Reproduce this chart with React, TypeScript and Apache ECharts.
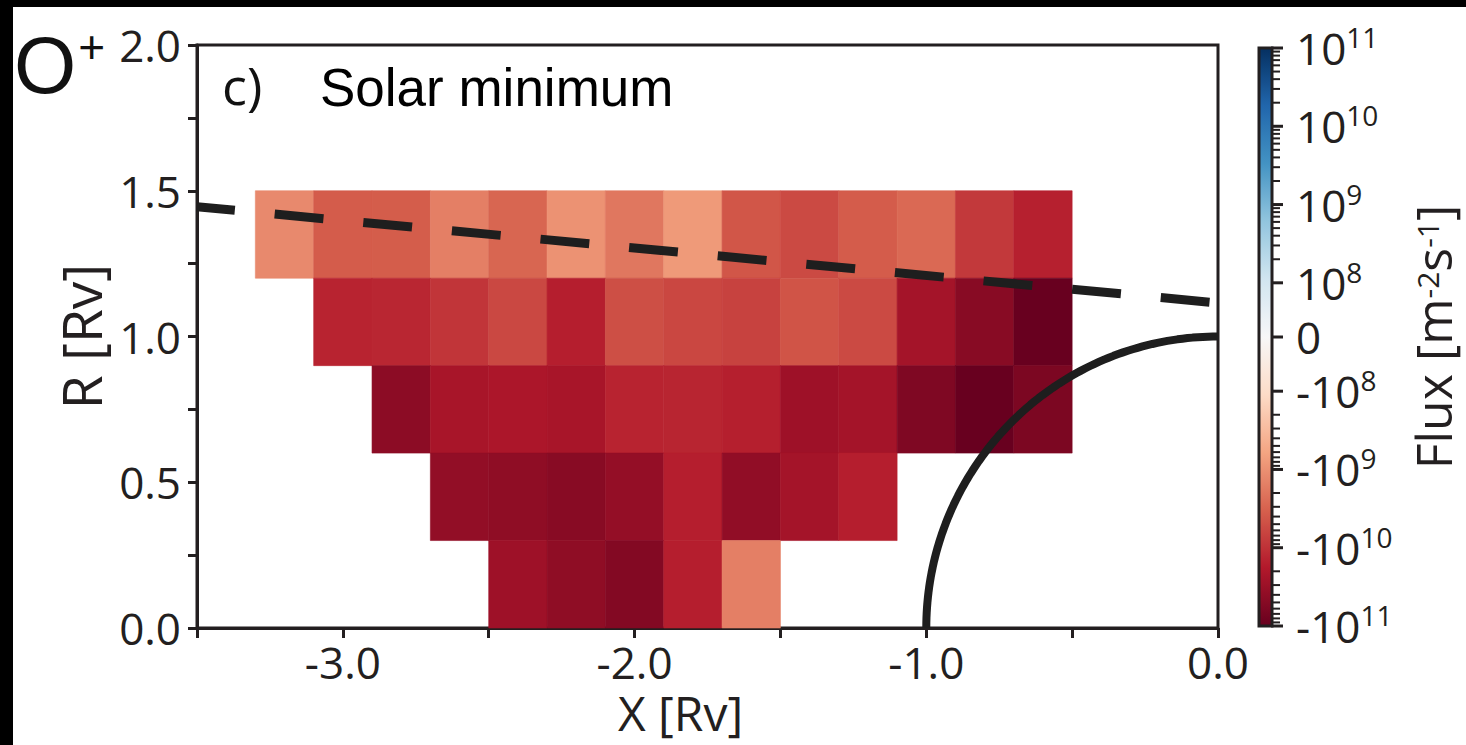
import React, { useEffect, useRef } from "react";
import * as echarts from "echarts";

// ---------- data ----------
const CELL_W = 0.2;
const CELL_H = 0.3;
const ROW_Y0 = [1.2, 0.9, 0.6, 0.3, 0.0];
const ROW_X0 = [-3.3, -3.1, -2.9, -2.7, -2.5];
const FLUX_ROW_1 = [-1.2e9, -3.7e9, -3.6e9, -1.55e9, -2.9e9, -9.7e8, -1.9e9, -8.0e8, -4.2e9, -5.6e9, -3.7e9, -2.7e9, -8.4e9, -1.5e10];
const FLUX_ROW_2 = [-1.4e10, -1.3e10, -9.2e9, -5.9e9, -1.6e10, -5.0e9, -6.0e9, -6.8e9, -4.4e9, -5.6e9, -2.5e10, -4.7e10, -9.8e10];
const FLUX_ROW_3 = [-4.3e10, -2.3e10, -2.1e10, -2.3e10, -1.4e10, -1.35e10, -1.55e10, -2.9e10, -2.5e10, -5.8e10, -9.7e10, -6.2e10];
const FLUX_ROW_4 = [-3.8e10, -4.0e10, -4.7e10, -3.6e10, -1.6e10, -3.9e10, -2.5e10, -1.6e10];
const FLUX_ROW_5 = [-2.9e10, -4.0e10, -5.3e10, -1.6e10, -1.55e9];
const FLUX_ROWS = [FLUX_ROW_1, FLUX_ROW_2, FLUX_ROW_3, FLUX_ROW_4, FLUX_ROW_5];

const BOUNDARY_X = [-3.5, 0.0];
const BOUNDARY_Y = [1.445, 1.115];
const PLANET_R = 1.0;

const CB_MAJOR = [-1e11, -1e10, -1e9, -1e8, 0, 1e8, 1e9, 1e10, 1e11];
const CB_MINOR_MANTISSA = [2, 3, 4, 5, 6, 7, 8, 9];
const CB_MINOR_EXP = [8, 9, 10];
const CB_COLORS = [
  "#67001f", "#b2182b", "#d6604d", "#f4a582", "#fddbc7", "#f7f7f7",
  "#d1e5f0", "#92c5de", "#4393c3", "#2166ac", "#053061",
];

// symmetric-log colour scale: linear below 1e8, 3 decades above
const LIN_THRESH = 1e8;
const LIN_W = 54;
const DEC_W = 78;
const N_DEC = 3;
function symlog(f: number): number {
  const a = Math.abs(f);
  const s = f < 0 ? -1 : 1;
  const p = a <= LIN_THRESH ? (a / LIN_THRESH) * LIN_W : LIN_W + Math.log10(a / LIN_THRESH) * DEC_W;
  return (s * p) / (LIN_W + N_DEC * DEC_W);
}

const TICK_FONT = "'Open Sans', 'Noto Sans', sans-serif";
const TITLE_FONT = "'Liberation Sans', Arial, sans-serif";
const INK = "#231f20";

function cbLabel(f: number): string {
  if (f === 0) return "{b|0}";
  const e = Math.round(Math.log10(Math.abs(f)));
  return (f < 0 ? "{b|-10}" : "{b|10}") + "{s|" + e + "}";
}

function tickSeries(values: number[], len: number, width: number) {
  return {
    type: "custom", xAxisIndex: 1, yAxisIndex: 1, z: 60, silent: true, clip: false,
    data: values.map((v) => [1, v]),
    encode: { x: 0, y: 1 },
    renderItem: (params: any, api: any) => {
      const p = api.coord([api.value(0), api.value(1)]);
      return {
        type: "line",
        shape: { x1: p[0] - 1, y1: p[1], x2: p[0] + len, y2: p[1] },
        style: { stroke: INK, lineWidth: width },
      };
    },
  };
}

export default function App() {
  const ref = useRef<HTMLDivElement>(null);
  useEffect(() => {
    if (!ref.current) return;
    const chart = echarts.init(ref.current, null, { renderer: "svg" });

    const cells: number[][] = [];
    FLUX_ROWS.forEach((row, r) => {
      row.forEach((f, i) => {
        cells.push([ROW_X0[r] + i * CELL_W, ROW_Y0[r], symlog(f), f]);
      });
    });

    const arc: number[][] = [];
    for (let d = 0; d <= 90; d++) {
      const a = (d * Math.PI) / 180;
      arc.push([-PLANET_R * Math.cos(a), PLANET_R * Math.sin(a)]);
    }

    const majorPos = CB_MAJOR.map(symlog);
    const minorPos: number[] = [];
    CB_MINOR_EXP.forEach((k) => {
      CB_MINOR_MANTISSA.forEach((m) => {
        minorPos.push(symlog(m * Math.pow(10, k)));
        minorPos.push(symlog(-m * Math.pow(10, k)));
      });
    });

    const cbRect = { left: 1259, top: 48, width: 13, height: 578 };

    chart.setOption({
      animation: false,
      backgroundColor: "#ffffff",
      grid: [
        { left: 197, top: 45, width: 1021, height: 583, show: true, borderColor: INK, borderWidth: 3, backgroundColor: "transparent" },
        { ...cbRect, show: false },
      ],
      xAxis: [
        {
          gridIndex: 0, type: "value", min: -3.5, max: 0, interval: 0.5,
          name: "X [Rv]", nameLocation: "middle", nameGap: 60,
          nameTextStyle: { fontFamily: TICK_FONT, fontSize: 48, lineHeight: 38, color: INK, padding: [0, 54, 0, 0] },
          axisLine: { show: true, onZero: false, lineStyle: { color: INK, width: 3 } },
          axisTick: { show: true, inside: false, length: 10, lineStyle: { color: INK, width: 3 } },
          axisLabel: {
            margin: 16, fontFamily: TICK_FONT, fontSize: 44, lineHeight: 36, color: INK,
            formatter: (v: number) => (Math.abs(v - Math.round(v)) < 1e-9 ? (Math.abs(v) < 1e-9 ? "0.0" : v.toFixed(1)) : ""),
          },
          splitLine: { show: false },
        },
        { gridIndex: 1, type: "value", show: false, min: 0, max: 1 },
      ],
      yAxis: [
        {
          gridIndex: 0, type: "value", min: 0, max: 2, interval: 0.25,
          name: "R [Rv]", nameLocation: "middle", nameGap: 90, nameRotate: 90,
          nameTextStyle: { fontFamily: TICK_FONT, fontSize: 55, lineHeight: 46, color: INK },
          axisLine: { show: true, onZero: false, lineStyle: { color: INK, width: 3 } },
          axisTick: { show: true, inside: false, length: 9, lineStyle: { color: INK, width: 3 } },
          axisLabel: {
            margin: 16, fontFamily: TICK_FONT, fontSize: 44, color: INK,
            formatter: (v: number) => (Math.abs(v * 2 - Math.round(v * 2)) < 1e-9 ? v.toFixed(1) : ""),
          },
          splitLine: { show: false },
        },
        {
          gridIndex: 1, type: "value", min: -1, max: 1, position: "right",
          name: "{n|Flux [m}{s|-2}{n|s}{s|-1}{n|]}", nameLocation: "middle", nameGap: 140, nameRotate: 90,
          nameTextStyle: {
            rich: {
              n: { fontFamily: TICK_FONT, fontSize: 50, color: INK, lineHeight: 42 },
              s: { fontFamily: TICK_FONT, fontSize: 30, color: INK, verticalAlign: "top" },
            },
          },
          axisLine: { show: false, onZero: false },
          axisTick: { show: false },
          axisLabel: {
            show: true, margin: 24, customValues: majorPos,
            formatter: (v: number) => {
              let best = 0;
              majorPos.forEach((p, i) => { if (Math.abs(p - v) < Math.abs(majorPos[best] - v)) best = i; });
              return cbLabel(CB_MAJOR[best]);
            },
            rich: {
              b: { fontFamily: TICK_FONT, fontSize: 44, color: INK, lineHeight: 50 },
              s: { fontFamily: TICK_FONT, fontSize: 28, color: INK, verticalAlign: "top" },
            },
          },
          splitLine: { show: false },
        },
      ],
      visualMap: {
        type: "continuous", min: -1, max: 1, dimension: 2, seriesIndex: 0,
        calculable: false, hoverLink: false, showLabel: false,
        orient: "vertical", left: cbRect.left, top: cbRect.top,
        itemWidth: cbRect.width, itemHeight: cbRect.height, padding: 0,
        inRange: { color: CB_COLORS },
      },
      series: [
        {
          type: "custom", xAxisIndex: 0, yAxisIndex: 0, z: 1,
          dimensions: ["x", "y", "pos", "flux"],
          encode: { x: 0, y: 1 },
          data: cells,
          renderItem: (params: any, api: any) => {
            const x0 = api.value(0);
            const y0 = api.value(1);
            const p0 = api.coord([x0, y0 + CELL_H]);
            const p1 = api.coord([x0 + CELL_W, y0]);
            const c = api.visual("color");
            return {
              type: "rect",
              shape: { x: p0[0], y: p0[1], width: p1[0] - p0[0], height: p1[1] - p0[1] },
              style: { fill: c, stroke: c, lineWidth: 0.6 },
            };
          },
        },
        {
          type: "line", xAxisIndex: 0, yAxisIndex: 0, z: 5, symbol: "none", silent: true,
          data: BOUNDARY_X.map((x, i) => [x, BOUNDARY_Y[i]]),
          lineStyle: { color: "#1e1e1e", width: 9, type: [49, 40], dashOffset: 11, cap: "butt" },
        },
        {
          type: "line", xAxisIndex: 0, yAxisIndex: 0, z: 5, symbol: "none", silent: true,
          data: arc,
          lineStyle: { color: "#1e1e1e", width: 8 },
        },
        tickSeries(majorPos, 11, 3),
        tickSeries(minorPos, 8, 2),
      ],
      graphic: [
        { type: "rect", left: 0, top: 0, shape: { width: 1466, height: 7 }, style: { fill: "#000" }, z: 100 },
        { type: "rect", left: 0, top: 0, shape: { width: 13, height: 745 }, style: { fill: "#000" }, z: 100 },
        {
          type: "rect", z: 50,
          shape: { x: cbRect.left, y: cbRect.top, width: cbRect.width, height: cbRect.height },
          style: { fill: "none", stroke: INK, lineWidth: 3 },
        },
        {
          type: "text", x: 14, y: 20, z: 60,
          style: {
            text: "{o|O}{p|+}",
            rich: {
              o: { fontFamily: TITLE_FONT, fontSize: 80, fill: "#111", lineHeight: 90 },
              p: { fontFamily: TITLE_FONT, fontSize: 46, fill: "#111", verticalAlign: "top", padding: [4, 0, 0, 2] },
            },
          },
        },
        {
          type: "text", x: 222, y: 58, z: 60,
          style: { text: "c)", fontFamily: TICK_FONT, fontSize: 52, fill: "#111" },
        },
        {
          type: "text", x: 320, y: 61, z: 60,
          style: { text: "Solar minimum", fontFamily: TITLE_FONT, fontSize: 53, fill: "#000" },
        },
      ],
    });
    return () => chart.dispose();
  }, []);
  return <div ref={ref} style={{ position: "fixed", left: 0, top: 0, width: 1466, height: 745 }} />;
}
